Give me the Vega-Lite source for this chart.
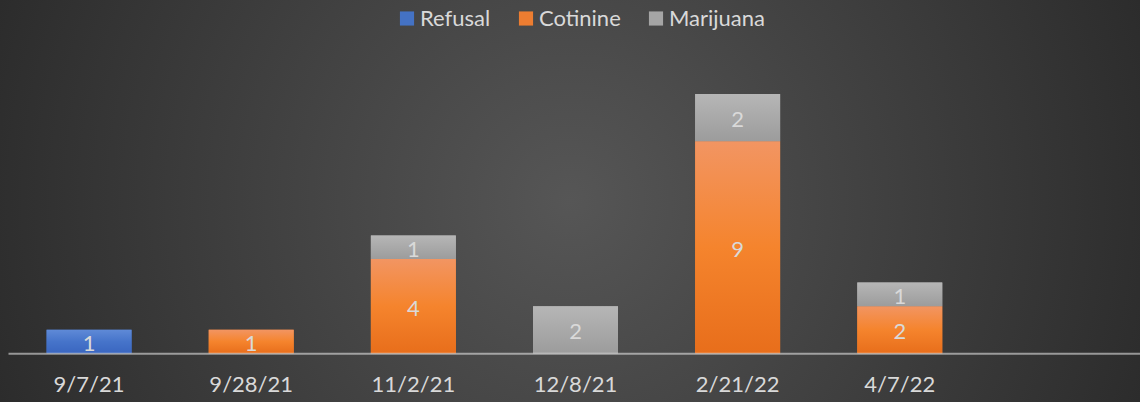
{
  "$schema": "https://vega.github.io/schema/vega-lite/v6.json",
  "width": 1140,
  "height": 402,
  "padding": 0,
  "autosize": {"type": "none"},
  "background": "#2c2c2c",
  "config": {
    "font": "Lato",
    "view": {
      "stroke": null,
      "fill": {
        "gradient": "radial",
        "x1": 0.5, "y1": 0.5, "r1": 0,
        "x2": 0.5, "y2": 0.5, "r2": 0.53,
        "stops": [
          {"offset": 0, "color": "#565656"},
          {"offset": 1, "color": "#2c2c2c"}
        ]
      }
    }
  },
  "data": {
    "values": [
      {"date": "9/7/21", "series": "Refusal", "count": 1},
      {"date": "9/28/21", "series": "Cotinine", "count": 1},
      {"date": "11/2/21", "series": "Cotinine", "count": 4},
      {"date": "11/2/21", "series": "Marijuana", "count": 1},
      {"date": "12/8/21", "series": "Marijuana", "count": 2},
      {"date": "2/21/22", "series": "Cotinine", "count": 9},
      {"date": "2/21/22", "series": "Marijuana", "count": 2},
      {"date": "4/7/22", "series": "Cotinine", "count": 2},
      {"date": "4/7/22", "series": "Marijuana", "count": 1}
    ]
  },
  "transform": [
    {"stack": "count", "groupby": ["date"], "sort": [{"field": "series", "order": "ascending"}], "as": ["y0", "y1"]},
    {"calculate": "(datum.y0 + datum.y1) / 2", "as": "ymid"}
  ],
  "encoding": {
    "x": {
      "field": "date",
      "type": "nominal",
      "scale": {
        "domain": ["9/7/21", "9/28/21", "11/2/21", "12/8/21", "2/21/22", "4/7/22", " "],
        "range": [8, 1143],
        "paddingInner": 0.476,
        "paddingOuter": 0.238
      },
      "axis": {
        "title": null,
        "orient": "bottom",
        "offset": -48.7,
        "zindex": 1,
        "grid": false,
        "ticks": false,
        "domain": true,
        "domainColor": "#ffffff",
        "domainOpacity": 0.5,
        "domainWidth": 2,
        "labelAngle": 0,
        "labelFont": "Lato",
        "labelFontSize": 22,
        "labelColor": "#d9d9d9",
        "labelPadding": 21.5
      }
    },
    "y": {
      "field": "y1",
      "type": "quantitative",
      "scale": {"domain": [-2.066, 14.99], "nice": false, "zero": false},
      "axis": null
    },
    "y2": {"field": "y0"}
  },
  "layer": [
    {
      "mark": {"type": "bar"},
      "encoding": {
        "color": {
          "field": "series",
          "type": "nominal",
          "scale": {
            "domain": ["Refusal", "Cotinine", "Marijuana"],
            "range": ["#4472C4", "#ED7D31", "#A5A5A5"]
          },
          "legend": {
            "title": null,
            "orient": "none",
            "legendX": 396,
            "legendY": 7.5,
            "direction": "horizontal",
            "padding": 0,
            "symbolType": "square",
            "symbolSize": 200,
            "symbolStrokeWidth": 0,
            "labelFont": "Lato",
            "labelFontSize": 22,
            "labelColor": "#d9d9d9",
            "labelOffset": 2,
            "columnPadding": 24
          }
        }
      }
    },
    {
      "transform": [{"filter": "datum.series === 'Refusal'"}],
      "mark": {
        "type": "bar",
        "fill": {
          "gradient": "linear", "x1": 0, "y1": 0, "x2": 0, "y2": 1,
          "stops": [
            {"offset": 0, "color": "#5F8AD7"},
            {"offset": 0.5, "color": "#4674CA"},
            {"offset": 1, "color": "#3A66C0"}
          ]
        }
      }
    },
    {
      "transform": [{"filter": "datum.series === 'Cotinine'"}],
      "mark": {
        "type": "bar",
        "fill": {
          "gradient": "linear", "x1": 0, "y1": 0, "x2": 0, "y2": 1,
          "stops": [
            {"offset": 0, "color": "#F29562"},
            {"offset": 0.5, "color": "#F5842D"},
            {"offset": 1, "color": "#E86E1B"}
          ]
        }
      }
    },
    {
      "transform": [{"filter": "datum.series === 'Marijuana'"}],
      "mark": {
        "type": "bar",
        "fill": {
          "gradient": "linear", "x1": 0, "y1": 0, "x2": 0, "y2": 1,
          "stops": [
            {"offset": 0, "color": "#B6B6B6"},
            {"offset": 1, "color": "#9C9C9C"}
          ]
        }
      }
    },
    {
      "mark": {
        "type": "text",
        "font": "Lato",
        "fontSize": 22,
        "color": "#d9d9d9",
        "align": "center",
        "baseline": "middle",
        "dy": 2.5
      },
      "encoding": {
        "y": {
          "field": "ymid",
          "type": "quantitative",
          "scale": {"domain": [-2.066, 14.99], "nice": false, "zero": false},
          "axis": null
        },
        "y2": null,
        "text": {"field": "count", "type": "quantitative"}
      }
    }
  ]
}
